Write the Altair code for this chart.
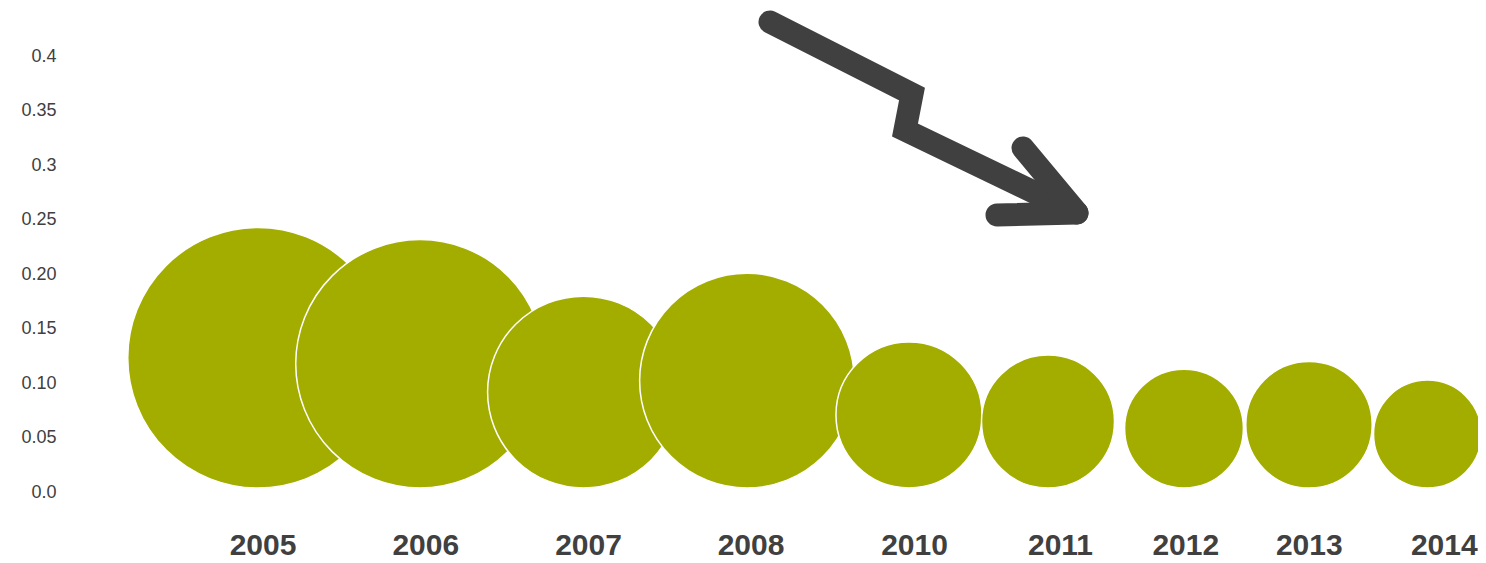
import altair as alt
import pandas as pd

# ---- data ----
years = ["2005", "2006", "2007", "2008", "2010", "2011", "2012", "2013", "2014"]
# bubble diameter expressed in y-axis units
values = [0.239, 0.228, 0.176, 0.197, 0.134, 0.122, 0.109, 0.116, 0.099]
# horizontal placement of each bubble on a 0..1408 layout axis
bubble_pos = [188, 350, 513.5, 677, 839, 978, 1114, 1239, 1357.5]
# horizontal placement of each year label on the same axis
label_pos = [192.5, 355.3, 518, 680.5, 844, 990, 1115.3, 1238.8, 1373.8]

y_ticks = [0, 0.05, 0.1, 0.15, 0.2, 0.25, 0.3, 0.35, 0.4]
y_tick_labels = ["0.0", "0.05", "0.10", "0.15", "0.20", "0.25", "0.3", "0.35", "0.4"]

# decorative down arrow (layout x, y in axis units)
arrow_body_x = [700, 842, 835, 1007]
arrow_body_y = [0.4312, 0.3651, 0.3321, 0.2560]
arrow_head_x = [953, 1007, 927]
arrow_head_y = [0.3156, 0.2560, 0.2541]

GREEN = "#A3AD00"
DARK = "#404040"
FONT = "Liberation Sans"

bubbles = pd.DataFrame({"year": years, "d": values, "x": bubble_pos})
body = pd.DataFrame({"x": arrow_body_x, "y": arrow_body_y, "i": list(range(len(arrow_body_x)))})
head = pd.DataFrame({"x": arrow_head_x, "y": arrow_head_y, "i": list(range(len(arrow_head_x)))})

W, H = 1408, 436

xscale = alt.Scale(domain=[0, W], nice=False, zero=False)
yscale = alt.Scale(domain=[0, 0.4], nice=False)

year_list = "[" + ",".join("'%s'" % y for y in years) + "]"
pos_list = "[" + ",".join(str(p) for p in label_pos) + "]"
ylab_list = "[" + ",".join("'%s'" % t for t in y_tick_labels) + "]"

xaxis = alt.Axis(
    values=label_pos,
    labelExpr=f"{year_list}[indexof({pos_list}, datum.value)]",
    title=None,
    labelFontSize=30,
    labelFontWeight="bold",
    labelColor=DARK,
    labelFont=FONT,
    labelPadding=38,
    labelOverlap=False,
    labelFlush=False,
    ticks=False,
    tickSize=0,
    domain=False,
    grid=False,
)
yaxis = alt.Axis(
    values=y_ticks,
    labelExpr=f"{ylab_list}[round(datum.value*20)]",
    title=None,
    labelFontSize=18,
    labelColor=DARK,
    labelFont=FONT,
    labelPadding=14,
    labelOverlap=False,
    labelFlush=False,
    ticks=False,
    tickSize=0,
    domain=False,
    grid=False,
)

circles = (
    alt.Chart(bubbles)
    .transform_calculate(cy="datum.d / 2")
    .mark_circle(opacity=1, fill=GREEN, stroke="white", strokeWidth=1.5, yOffset=-4)
    .encode(
        x=alt.X("x:Q", scale=xscale, axis=xaxis),
        y=alt.Y("cy:Q", scale=yscale, axis=yaxis),
        size=alt.Size(
            "d:Q",
            scale=alt.Scale(type="pow", exponent=2, domain=[0, 0.4], range=[0, H * H]),
            legend=None,
        ),
    )
)

arrow_body = (
    alt.Chart(body)
    .mark_line(color=DARK, strokeWidth=23, strokeCap="round", strokeJoin="miter", strokeMiterLimit=10)
    .encode(
        x=alt.X("x:Q", scale=xscale, axis=xaxis),
        y=alt.Y("y:Q", scale=yscale, axis=yaxis),
        order="i:Q",
    )
)

arrow_head = (
    alt.Chart(head)
    .mark_line(color=DARK, strokeWidth=23, strokeCap="round", strokeJoin="round")
    .encode(
        x=alt.X("x:Q", scale=xscale, axis=xaxis),
        y=alt.Y("y:Q", scale=yscale, axis=yaxis),
        order="i:Q",
    )
)

chart = (
    alt.layer(circles, arrow_body, arrow_head)
    .properties(
        width=W,
        height=H,
        autosize=alt.AutoSizeParams(type="none"),
        padding={"left": 62, "top": 48, "right": 0, "bottom": 70},
        background="white",
    )
    .configure_view(stroke=None)
)

chart.save("out.html", embed_options={"renderer": "svg", "actions": False})
